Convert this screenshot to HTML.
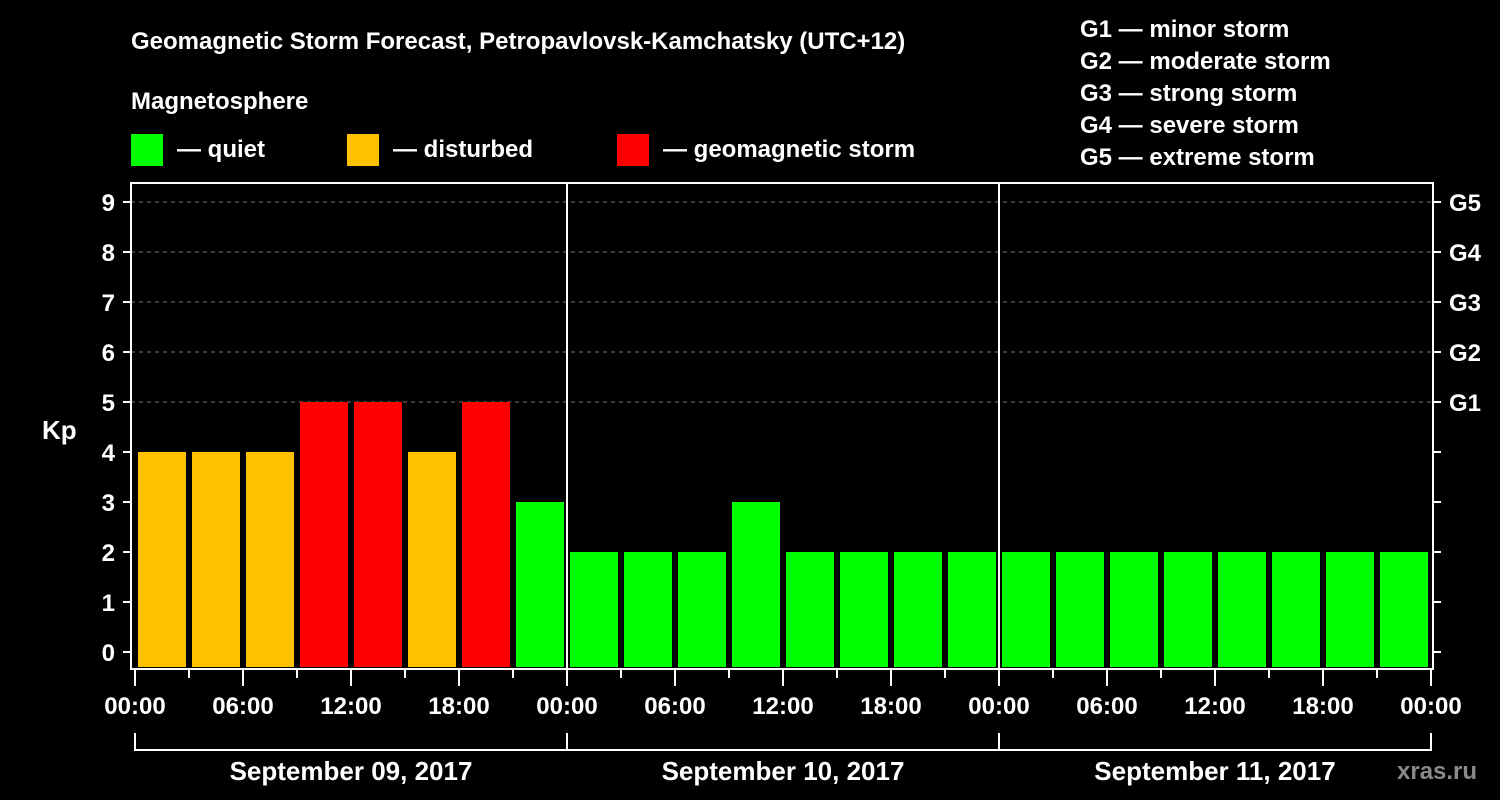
<!DOCTYPE html>
<html><head><meta charset="utf-8"><style>
body{margin:0;background:#000;width:1500px;height:800px;overflow:hidden}
svg{display:block}
text{font-family:"Liberation Sans",Arial,sans-serif;font-weight:bold;fill:#fff}
</style></head><body>
<svg id="chart" width="1500" height="800" xmlns="http://www.w3.org/2000/svg">
<text x="131" y="49" font-size="24">Geomagnetic Storm Forecast, Petropavlovsk-Kamchatsky (UTC+12)</text>
<text x="131" y="109" font-size="24">Magnetosphere</text>
<g><rect x="131" y="134" width="32" height="32" fill="#00ff00"/><text x="177" y="157" font-size="24">— quiet</text></g>
<g><rect x="347" y="134" width="32" height="32" fill="#ffc000"/><text x="393" y="157" font-size="24">— disturbed</text></g>
<g><rect x="617" y="134" width="32" height="32" fill="#ff0000"/><text x="663" y="157" font-size="24">— geomagnetic storm</text></g>
<g font-size="24">
<text x="1080" y="37">G1 — minor storm</text>
<text x="1080" y="69">G2 — moderate storm</text>
<text x="1080" y="101">G3 — strong storm</text>
<text x="1080" y="133">G4 — severe storm</text>
<text x="1080" y="165">G5 — extreme storm</text>
</g>
<text x="42" y="439" font-size="26">Kp</text>
<text x="1397" y="779" font-size="24" fill="#888" style="fill:#8a8a8a">xras.ru</text>
<g id="grid"></g><g id="bars"></g><g id="axes"></g>
</svg>
<script>
const kpValues=[4,4,4,5,5,4,5,3, 2,2,2,3,2,2,2,2, 2,2,2,2,2,2,2,2];
const dayLabels=["September 09, 2017","September 10, 2017","September 11, 2017"];
const timeLabels=["00:00","06:00","12:00","18:00"];
const gLabels=["G1","G2","G3","G4","G5"];
const NS="http://www.w3.org/2000/svg";
const L=131,R=1433,T=183,B=669,X0=135,SLOT=54;
const xS=i=>X0+i*SLOT;
const yS=v=>652-50*v;
function mk(tag,attrs,parent,txt){const e=document.createElementNS(NS,tag);for(const k in attrs)e.setAttribute(k,attrs[k]);if(txt!==undefined)e.textContent=txt;parent.appendChild(e);return e;}
const grid=document.getElementById('grid'),bars=document.getElementById('bars'),axes=document.getElementById('axes');
for(let v=5;v<=9;v++){const l=mk('line',{x1:L,x2:R,y1:yS(v),y2:yS(v),stroke:'#777','stroke-dasharray':'4,4'},grid);

}
kpValues.forEach((v,i)=>{const c=v>=5?'#ff0000':v>=4?'#ffc000':'#00ff00';
const r=mk('rect',{x:xS(i)+3,y:yS(v),width:48,height:667-yS(v),fill:c},bars);

});
// day separators
for(let d=1;d<dayLabels.length;d++){const l=mk('line',{x1:xS(d*8),x2:xS(d*8),y1:T,y2:B,stroke:'#fff','stroke-width':2},axes);

}
const fr=mk('rect',{x:L,y:T,width:R-L,height:B-T,fill:'none',stroke:'#fff','stroke-width':2},axes);


for(let v=0;v<=9;v++){
mk('line',{x1:L-8,x2:L,y1:yS(v),y2:yS(v),stroke:'#fff','stroke-width':2},axes);
mk('line',{x1:R,x2:R+8,y1:yS(v),y2:yS(v),stroke:'#fff','stroke-width':2},axes);
const t=mk('text',{x:L-16,y:yS(v)+9,'font-size':24,'text-anchor':'end'},axes,String(v));

}
gLabels.forEach((g,i)=>{const t=mk('text',{x:1449,y:yS(i+5)+9,'font-size':24},axes,g);

});
for(let i=0;i<=24;i++){const major=i%2===0;
mk('line',{x1:xS(i),x2:xS(i),y1:B+1,y2:B+(major?17:9),stroke:'#fff','stroke-width':2},axes);
if(major){const t=mk('text',{x:xS(i),y:714,'font-size':24,'text-anchor':'middle'},axes,timeLabels[(i/2)%4]);

}}
const br=mk('path',{d:`M${xS(0)} 733V750H${xS(24)}V733`+[1,2].map(d=>`M${xS(d*8)} 733V750`).join(''),stroke:'#fff','stroke-width':2,fill:'none'},axes);


dayLabels.forEach((d,i)=>{const t=mk('text',{x:(xS(i*8)+xS(i*8+8))/2,y:780,'font-size':26,'text-anchor':'middle'},axes,d);

});
</script>
</body></html>
